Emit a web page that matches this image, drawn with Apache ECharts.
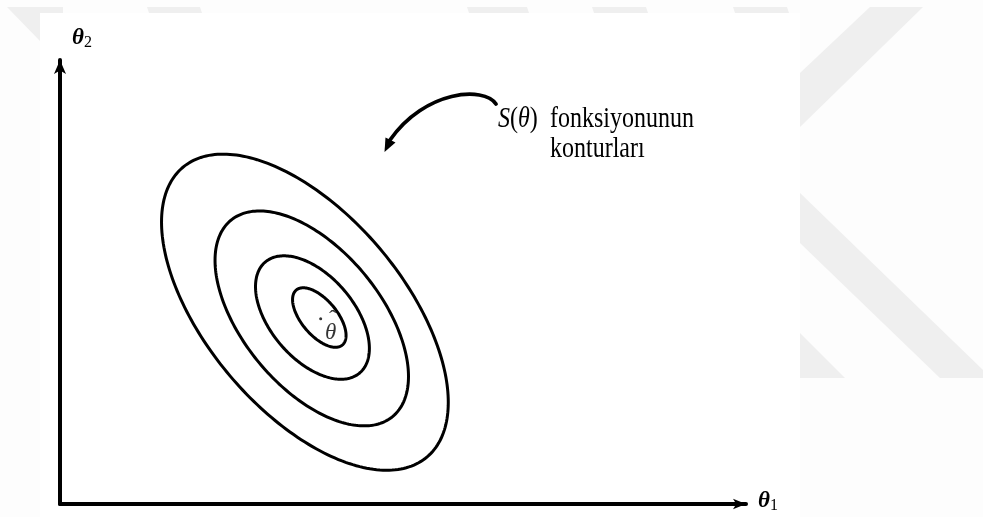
<!DOCTYPE html>
<html>
<head>
<meta charset="utf-8">
<script src="https://cdn.jsdelivr.net/npm/echarts@6/dist/echarts.min.js"></script>
<style>
  html, body { margin: 0; padding: 0; background: #fdfdfd; }
  #chart { width: 983px; height: 517px; }
</style>
</head>
<body>
<div id="chart"></div>
<script>
// Contours of S(θ), outermost first.
// Each contour: centre (θ1, θ2), half extent along θ1 and θ2, and tilt (correlation of θ1 and θ2).
const contourLevels = ['S4', 'S3', 'S2', 'S1'];
const centerTheta1 = [3.57, 3.67, 3.68, 3.78];
const centerTheta2 = [4.32, 4.18, 4.20, 4.20];
const halfWidth    = [2.09, 1.41, 0.83, 0.39];
const halfHeight   = [3.56, 2.42, 1.39, 0.67];
const tilt         = [-0.57, -0.54, -0.50, -0.60];

// Minimum of S(θ)
const thetaHat = [3.80, 4.17];

// Parameter axes (unitless)
const theta1Range = [0, 10];
const theta2Range = [0, 10];

const SERIF = '"Liberation Serif", "DejaVu Serif", serif';
const WATERMARK = '#efefef';
const SEGMENTS = 240;

function renderContour(params, api) {
  const cx = api.value(0), cy = api.value(1);
  const hw = api.value(2), hh = api.value(3), r = api.value(4);
  const s = Math.sqrt(1 - r * r);
  const points = [];
  for (let k = 0; k < SEGMENTS; k++) {
    const t = 2 * Math.PI * k / SEGMENTS;
    points.push(api.coord([
      cx + hw * Math.cos(t),
      cy + hh * (r * Math.cos(t) + s * Math.sin(t))
    ]));
  }
  return {
    type: 'polygon',
    shape: { points: points },
    style: { fill: 'none', stroke: '#000', lineWidth: 3 }
  };
}

const contourData = contourLevels.map((name, i) => ({
  name: name,
  value: [centerTheta1[i], centerTheta2[i], halfWidth[i], halfHeight[i], tilt[i]]
}));

const axisLabelRich = {
  t: { fontFamily: SERIF, fontSize: 23, fontStyle: 'italic', fontWeight: 'bold', lineHeight: 24, color: '#000' },
  s: { fontFamily: SERIF, fontSize: 16, lineHeight: 16, verticalAlign: 'bottom', color: '#000' }
};

function poly(points, z, fill) {
  return { type: 'polygon', silent: true, z: z, shape: { points: points }, style: { fill: fill } };
}

const chart = echarts.init(document.getElementById('chart'), null, { renderer: 'canvas' });

chart.setOption({
  animation: false,
  backgroundColor: '#fdfdfd',
  textStyle: { fontFamily: SERIF },
  grid: { left: 60, right: 237, top: 60, bottom: 13, containLabel: false },
  xAxis: {
    type: 'value',
    min: theta1Range[0],
    max: theta1Range[1],
    name: '{t|θ}{s|1}',
    nameLocation: 'end',
    nameGap: 12,
    nameTextStyle: { align: 'left', verticalAlign: 'middle', padding: [0, 0, 5, 0], rich: axisLabelRich },
    axisLine: {
      show: true,
      symbol: ['none', 'arrow'],
      symbolSize: [8, 13],
      lineStyle: { color: '#000', width: 4 }
    },
    axisTick: { show: false },
    axisLabel: { show: false },
    splitLine: { show: false }
  },
  yAxis: {
    type: 'value',
    min: theta2Range[0],
    max: theta2Range[1],
    name: '{t|θ}{s|2}',
    nameLocation: 'end',
    nameGap: 20,
    nameTextStyle: { align: 'left', verticalAlign: 'middle', padding: [0, 0, 3, 12], rich: axisLabelRich },
    axisLine: {
      show: true,
      symbol: ['none', 'arrow'],
      symbolSize: [9, 14],
      lineStyle: { color: '#000', width: 4 }
    },
    axisTick: { show: false },
    axisLabel: { show: false },
    splitLine: { show: false }
  },
  graphic: [
    // faint background logo around the figure panel
    poly([[7, 7], [63, 7], [63, 42], [41, 42]], -20, WATERMARK),
    poly([[147, 7], [200, 7], [202, 13], [149, 13]], -20, WATERMARK),
    poly([[467, 7], [527, 7], [529, 13], [469, 13]], -20, WATERMARK),
    poly([[592, 7], [646, 7], [648, 13], [594, 13]], -20, WATERMARK),
    poly([[733, 7], [787, 7], [789, 13], [735, 13]], -20, WATERMARK),
    poly([[870, 7], [923, 7], [800, 127], [800, 73]], -20, WATERMARK),
    poly([[800, 193], [983, 370], [983, 378], [940, 378], [800, 243]], -20, WATERMARK),
    poly([[800, 333], [845, 378], [800, 378]], -20, WATERMARK),
    // figure panel
    { type: 'rect', silent: true, z: -19, shape: { x: 40, y: 13, width: 760, height: 504 }, style: { fill: '#ffffff' } },

    // pointer to the contours
    {
      type: 'bezierCurve', silent: true, z: 10,
      shape: { x1: 496, y1: 104, cpx1: 484, cpy1: 86, cpx2: 425, cpy2: 90, x2: 390, y2: 140 },
      style: { stroke: '#000', lineWidth: 3.8, fill: null, lineCap: 'round' }
    },
    poly([[384.5, 152], [395.5, 142.5], [385.5, 137.5]], 10, '#000'),

    // annotation text
    {
      type: 'text', silent: true, z: 10, x: 498, y: 119, scaleY: 1.25,
      style: {
        text: '{i|S}({i|θ})',
        fontFamily: SERIF, fontSize: 24, fill: '#000', verticalAlign: 'middle',
        rich: { i: { fontFamily: SERIF, fontSize: 24, fontStyle: 'italic', fill: '#000' } }
      }
    },
    {
      type: 'text', silent: true, z: 10, x: 550, y: 119, scaleY: 1.25,
      style: { text: 'fonksiyonunun', fontFamily: SERIF, fontSize: 24, fill: '#000', verticalAlign: 'middle' }
    },
    {
      type: 'text', silent: true, z: 10, x: 550, y: 149, scaleY: 1.25,
      style: { text: 'konturları', fontFamily: SERIF, fontSize: 24, fill: '#000', verticalAlign: 'middle' }
    }
  ],
  series: [
    {
      type: 'custom',
      name: 'S(θ)',
      renderItem: renderContour,
      encode: { x: 0, y: 1 },
      data: contourData,
      silent: true,
      clip: false
    },
    {
      type: 'scatter',
      name: 'θ̂',
      data: [thetaHat],
      symbolSize: 3,
      itemStyle: { color: '#000' },
      silent: true,
      label: {
        show: true,
        position: 'inside',
        offset: [10, 10],
        color: '#000',
        formatter: '{h|ˆ}\n{t|θ}',
        rich: {
          h: { fontFamily: SERIF, fontSize: 22, lineHeight: 9, align: 'center', padding: [0, 0, 0, 4], color: '#000' },
          t: { fontFamily: SERIF, fontSize: 23, fontStyle: 'italic', lineHeight: 20, align: 'center', color: '#000' }
        }
      }
    }
  ]
});
</script>
</body>
</html>
